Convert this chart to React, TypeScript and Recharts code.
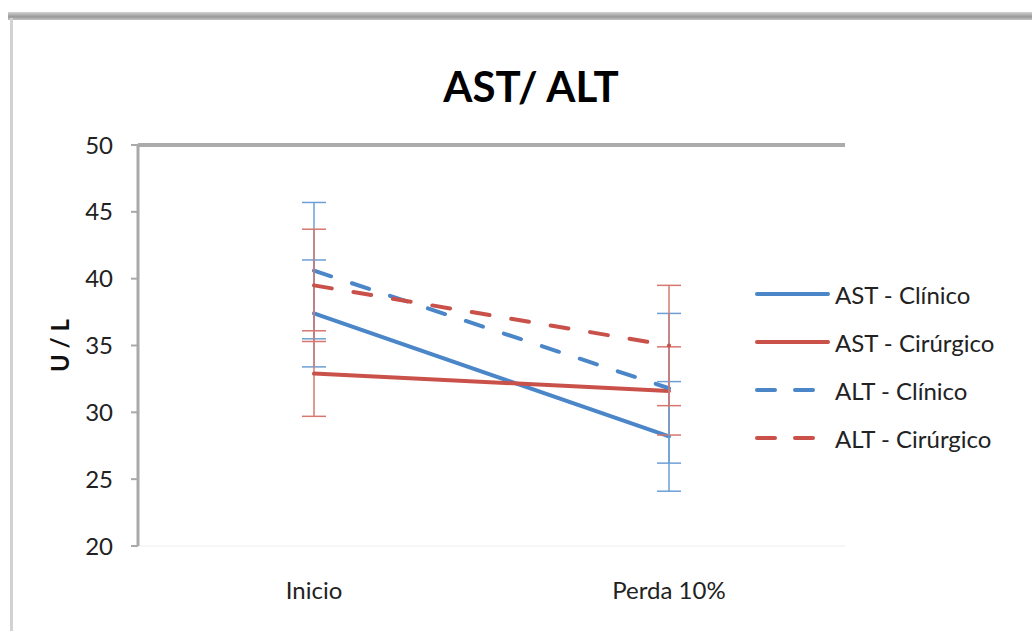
import React from "react";
import {
  LineChart,
  Line,
  XAxis,
  YAxis,
  ErrorBar,
  Legend,
  ReferenceLine,
} from "recharts";

const categories = ["Inicio", "Perda 10%"];
const astClinico = [37.4, 28.2];
const astClinicoErr = [4.0, 4.1];
const astCirurgico = [32.9, 31.6];
const astCirurgicoErr = [3.2, 3.3];
const altClinico = [40.6, 31.8];
const altClinicoErr = [5.1, 5.6];
const altCirurgico = [39.5, 35.0];
const altCirurgicoErr = [4.2, 4.5];
const yTicks = [20, 25, 30, 35, 40, 45, 50];

const BLUE = "#4A86C8";
const RED = "#C9514A";
const BLUE_ERR = "#6C9FD6";
const RED_ERR = "#D6776F";
const FONT = "Lato, 'Open Sans', sans-serif";

const data = categories.map((c, i) => ({
  name: c,
  astCl: astClinico[i],
  astClErr: astClinicoErr[i],
  astCir: astCirurgico[i],
  astCirErr: astCirurgicoErr[i],
  altCl: altClinico[i],
  altClErr: altClinicoErr[i],
  altCir: altCirurgico[i],
  altCirErr: altCirurgicoErr[i],
}));

const series = [
  { key: "astCl", label: "AST - Clínico", color: BLUE, err: BLUE_ERR, dashed: false },
  { key: "astCir", label: "AST - Cirúrgico", color: RED, err: RED_ERR, dashed: false },
  { key: "altCl", label: "ALT - Clínico", color: BLUE, err: BLUE_ERR, dashed: true },
  { key: "altCir", label: "ALT - Cirúrgico", color: RED, err: RED_ERR, dashed: true },
];

function LegendBox() {
  return (
    <div style={{ fontFamily: FONT, fontSize: 24, color: "#222" }}>
      {series.map((s) => (
        <div key={s.key} style={{ display: "flex", alignItems: "center", height: 48 }}>
          <svg width={80} height={10} style={{ display: "block" }}>
            {s.dashed ? (
              <>
                <line x1={2} y1={5} x2={20} y2={5} stroke={s.color} strokeWidth={4} strokeLinecap="round" />
                <line x1={40} y1={5} x2={58} y2={5} stroke={s.color} strokeWidth={4} strokeLinecap="round" />
              </>
            ) : (
              <line x1={2} y1={5} x2={73} y2={5} stroke={s.color} strokeWidth={4} strokeLinecap="round" />
            )}
          </svg>
          <span style={{ whiteSpace: "nowrap" }}>{s.label}</span>
        </div>
      ))}
    </div>
  );
}

export default function App() {
  return (
    <div style={{ position: "absolute", left: 0, top: 0, width: 1032, height: 631, background: "#fff", overflow: "hidden" }}>
      <div
        style={{
          position: "absolute",
          left: 8,
          top: 12,
          width: 1024,
          height: 8,
          background: "linear-gradient(#d2d2d2, #9a9a9a 60%, #c4c4c4)",
        }}
      />
      <div style={{ position: "absolute", left: 10, top: 18, width: 3, height: 613, background: "#d2d2d2" }} />
      <div
        style={{
          position: "absolute",
          left: 331,
          top: 65,
          width: 400,
          textAlign: "center",
          fontFamily: FONT,
          fontWeight: 700,
          fontSize: 42,
          lineHeight: "42px",
          color: "#000",
        }}
      >
        AST/ ALT
      </div>
      <div style={{ position: "absolute", left: 0, top: 0 }}>
        <LineChart
          width={1032}
          height={631}
          data={data}
          margin={{ top: 145, right: 187, bottom: 25, left: 0 }}
          style={{ fontFamily: FONT }}
        >
          <XAxis
            dataKey="name"
            padding={{ left: 176, right: 176 }}
            height={60}
            axisLine={{ stroke: "#eeeeee", strokeWidth: 1 }}
            tickLine={false}
            tickSize={0}
            tickMargin={36}
            tick={{ fontSize: 24, fill: "#222", fontFamily: FONT }}
          />
          <YAxis
            width={138}
            domain={[20, 50]}
            ticks={yTicks}
            interval={0}
            axisLine={{ stroke: "#a9a9a9", strokeWidth: 3 }}
            tickLine={{ stroke: "#a9a9a9", strokeWidth: 2 }}
            tickSize={7}
            tickMargin={18}
            tick={{ fontSize: 24, fill: "#222", fontFamily: FONT }}
            label={{
              value: "U / L",
              angle: -90,
              position: "insideLeft",
              offset: 60,
              style: { textAnchor: "middle", fontSize: 24, fontWeight: 700, fill: "#111", fontFamily: FONT },
            }}
          />
          <ReferenceLine y={50} stroke="#ababab" strokeWidth={4} />
          {series.map((s) => (
            <Line
              key={s.key}
              type="linear"
              dataKey={s.key}
              name={s.label}
              stroke={s.color}
              strokeWidth={4}
              strokeLinecap="round"
              strokeDasharray={s.dashed ? "18 22" : undefined}
              dot={false}
              activeDot={false}
              isAnimationActive={false}
            >
              <ErrorBar
                dataKey={s.key + "Err"}
                direction="y"
                width={12}
                stroke={s.err}
                strokeWidth={1.5}
                strokeDasharray="none"
              />
            </Line>
          ))}
          <Legend
            layout="horizontal"
            verticalAlign="middle"
            content={() => <LegendBox />}
            wrapperStyle={{ position: "absolute", left: 755, top: 270, width: 270 }}
          />
        </LineChart>
      </div>
    </div>
  );
}
